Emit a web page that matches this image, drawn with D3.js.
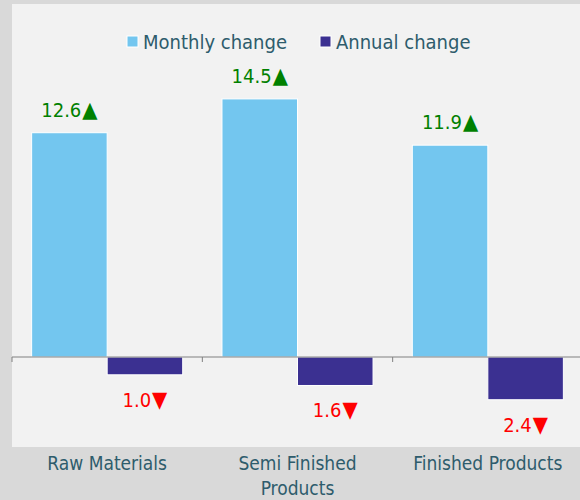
<!DOCTYPE html>
<html>
<head>
<meta charset="utf-8">
<script src="https://cdn.jsdelivr.net/npm/d3@7/dist/d3.min.js"></script>
<style>
  body { margin: 0; background: #d9d9d9; }
  svg { display: block; font-family: "DejaVu Sans Condensed", "Liberation Sans Narrow", sans-serif; }
</style>
</head>
<body>
<div id="chart"></div>
<script>
var categories = ["Raw Materials", "Semi Finished Products", "Finished Products"];
var seriesNames = ["Monthly change", "Annual change"];
var monthlyValues = [12.6, 14.5, 11.9];
var annualValues = [-1.0, -1.6, -2.4];

var W = 580, H = 500;
var colors = { "Monthly change": "#73c6ef", "Annual change": "#3b3091" };
var textColor = "#2e5c6c";

var svg = d3.select("#chart").append("svg")
  .attr("width", W)
  .attr("height", H);

// background panels
svg.append("rect").attr("width", W).attr("height", H).attr("fill", "#d9d9d9");
svg.append("rect").attr("x", 12).attr("y", 4).attr("width", W - 12).attr("height", 443).attr("fill", "#f2f2f2");

var x0 = d3.scaleBand()
  .domain(categories)
  .range([12, 583]);

var x1 = d3.scaleBand()
  .domain(seriesNames)
  .range([0, x0.bandwidth()])
  .paddingInner(0)
  .paddingOuter(0.26);

var y = d3.scaleLinear()
  .domain([-5, 15])
  .range([446, 90]);

var data = categories.map(function (c, i) {
  return { cat: c, values: [
    { key: seriesNames[0], v: monthlyValues[i] },
    { key: seriesNames[1], v: annualValues[i] }
  ]};
});

var groups = svg.selectAll(".grp")
  .data(data)
  .enter().append("g")
  .attr("class", "grp")
  .attr("transform", function (d) { return "translate(" + x0(d.cat) + ",0)"; });

groups.selectAll("rect")
  .data(function (d) { return d.values; })
  .enter().append("rect")
  .attr("x", function (d) { return x1(d.key); })
  .attr("y", function (d) { return y(Math.max(0, d.v)); })
  .attr("width", x1.bandwidth())
  .attr("height", function (d) { return Math.abs(y(d.v) - y(0)); })
  .attr("fill", function (d) { return colors[d.key]; })
  .attr("stroke", "#fff")
  .attr("stroke-width", 1);

var vals = groups.selectAll("text.val")
  .data(function (d) { return d.values; })
  .enter().append("text")
  .attr("class", "val")
  .attr("x", function (d) { return x1(d.key) + x1.bandwidth() / 2; })
  .attr("y", function (d) { return d.v >= 0 ? y(d.v) - 16 : y(d.v) + 32; })
  .attr("text-anchor", "middle")
  .style("font-size", "20px")
  .style("fill", function (d) { return d.v >= 0 ? "#008000" : "#ff0000"; });
vals.append("tspan").text(function (d) { return Math.abs(d.v).toFixed(1); });
vals.append("tspan")
  .attr("dx", 1)
  .style("font-size", "22px")
  .text(function (d) { return d.v >= 0 ? "\u25B2" : "\u25BC"; });

// zero axis with ticks at band edges
var axis = svg.append("g")
  .attr("transform", "translate(0," + y(0) + ")")
  .call(d3.axisBottom(x0).tickSize(0).tickFormat(""));
axis.select(".domain").attr("stroke", "#808080").attr("d", "M12,0H580");
axis.selectAll(".tick").remove();
axis.selectAll(".edge")
  .data(categories)
  .enter().append("line")
  .attr("x1", function (d) { return x0(d); })
  .attr("x2", function (d) { return x0(d); })
  .attr("y1", 0)
  .attr("y2", 5)
  .attr("stroke", "#808080");

// category labels in bottom strip
var catLabels = svg.selectAll(".cat")
  .data(categories)
  .enter().append("text")
  .attr("class", "cat")
  .attr("text-anchor", "middle")
  .attr("x", function (d) { return x0(d) + x0.bandwidth() / 2; })
  .attr("y", 470)
  .style("font-size", "19px")
  .style("fill", textColor)
  .text(function (d) { return d; });

catLabels.each(function (d) {
  var t = d3.select(this);
  if (this.getComputedTextLength() > 178) {
    var words = d.split(" ");
    var last = words.pop();
    t.text(null);
    t.append("tspan").attr("x", t.attr("x")).attr("dy", 0).text(words.join(" "));
    t.append("tspan").attr("x", t.attr("x")).attr("dy", 25).text(last);
  }
});

// legend
var legend = svg.append("g").attr("transform", "translate(0,42)");
var legendX = [127, 320];
var lg = legend.selectAll(".lg")
  .data(seriesNames)
  .enter().append("g")
  .attr("transform", function (d, i) { return "translate(" + legendX[i] + ",0)"; });
lg.append("rect")
  .attr("x", 0).attr("y", -6)
  .attr("width", 11).attr("height", 11)
  .attr("fill", function (d) { return colors[d]; })
  .attr("stroke", "#fff");
lg.append("text")
  .attr("x", 16).attr("y", 7)
  .style("font-size", "20px")
  .style("fill", textColor)
  .text(function (d) { return d; });
</script>
</body>
</html>
